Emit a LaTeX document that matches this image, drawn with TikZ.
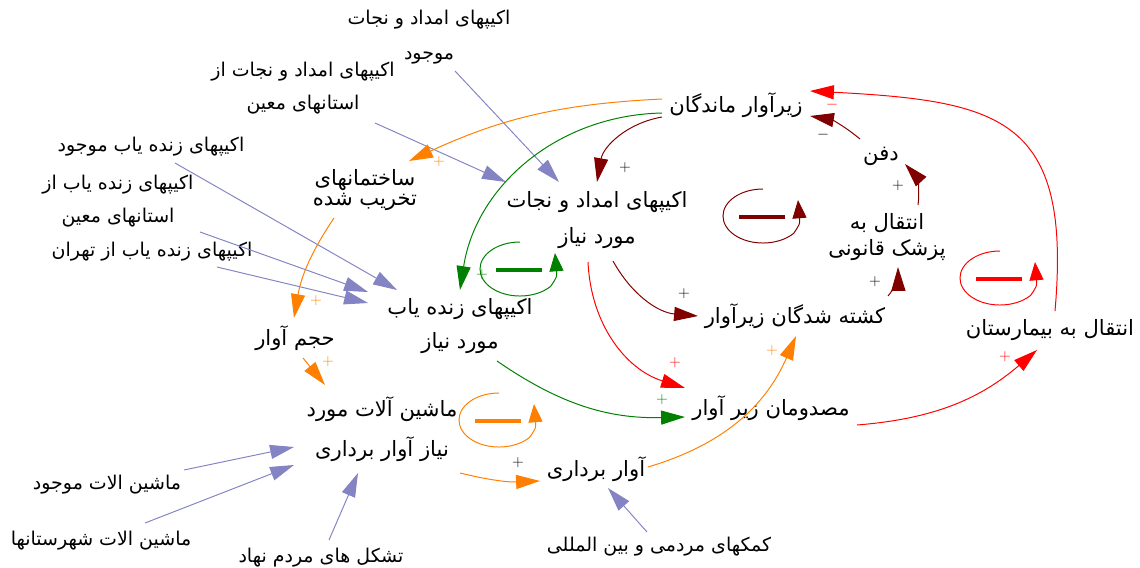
\documentclass[tikz,border=0pt]{standalone}
\usepackage{fontspec}
\newfontfamily\farsi[Script=Arabic]{DejaVu Sans}
\TeXXeTstate=1
\usetikzlibrary{arrows.meta}

\definecolor{lnkblue}{RGB}{132,132,196}
\definecolor{lnkorange}{RGB}{255,128,0}
\definecolor{lnkred}{RGB}{255,0,0}
\definecolor{lnkdark}{RGB}{128,0,0}
\definecolor{lnkgreen}{RGB}{0,128,0}

\newcommand{\fa}[1]{\beginR #1\endR}

\tikzset{
  var/.style={font=\farsi\fontsize{15}{17}\selectfont, align=center, inner sep=0pt, text=black},
  ext/.style={font=\farsi\fontsize{13.5}{16}\selectfont, align=center, inner sep=0pt, text=black},
  pol/.style={font=\fontsize{11}{12}\selectfont, inner sep=0pt, pos=1},
  loopsign/.style={-{Triangle[length=13pt,width=10pt]}},
}

\begin{document}
\begin{tikzpicture}[x=0.025cm, y=-0.025cm, >={Triangle[length=17pt,width=10pt]}, line width=0.7pt]
\useasboundingbox (0,0) rectangle (1140,567);

% main variables
\node[var] (ZM)  at (736,105) {\fa{زیرآوار ماندگان}};
\node[var] (SK)  at (365,190) {\fa{ساختمانهای}\\[-3pt]\fa{تخریب شده}};
\node[var] (AN)  at (597,220) {\fa{اکیپهای امداد و نجات}\\[8.5pt]\fa{مورد نیاز}};
\node[var] (ZN)  at (460,326) {\fa{اکیپهای زنده یاب}\\[7pt]\fa{مورد نیاز}};
\node[var] (HA)  at (295,338) {\fa{حجم آوار}};
\node[var] (MA)  at (382,429) {\fa{ماشین آلات مورد}\\[10pt]\fa{نیاز آوار برداری}};
\node[var] (AB)  at (596,469) {\fa{آوار برداری}};
\node[var] (MZ)  at (771,408) {\fa{مصدومان زیر آوار}};
\node[var] (KSH) at (795,316) {\fa{کشته شدگان زیرآوار}};
\node[var] (PQ)  at (887,237) {\fa{انتقال به}\\[2pt]\fa{پزشک قانونی}};
\node[var] (DF)  at (881,156) {\fa{دفن}};
\node[var] (BS)  at (1050,330) {\fa{انتقال به بیمارستان}};

% inputs
\node[ext] (A1)  at (429,37)  {\fa{اکیپهای امداد و نجات}\\[9pt]\fa{موجود}};
\node[ext] (A2)  at (303,88)  {\fa{اکیپهای امداد و نجات از}\\[7.5pt]\fa{استانهای معین}};
\node[ext] (Z1)  at (151,147) {\fa{اکیپهای زنده یاب موجود}};
\node[ext] (Z2)  at (118,201) {\fa{اکیپهای زنده یاب از}\\[7.5pt]\fa{استانهای معین}};
\node[ext] (Z3)  at (152,252) {\fa{اکیپهای زنده یاب از تهران}};
\node[ext] (ME)  at (107,485) {\fa{ماشین الات موجود}};
\node[ext] (MSH) at (101,541) {\fa{ماشین الات شهرستانها}};
\node[ext] (TM)  at (321,558) {\fa{تشکل های مردم نهاد}};
\node[ext] (KM)  at (659,547) {\fa{کمکهای مردمی و بین المللی}};

% loop signs
\foreach \col/\cx/\cy in {lnkdark/763/216, lnkgreen/520/269, lnkorange/499/420, lnkred/1000/278} {
  \draw[\col, loopsign] (\cx,\cy-27) arc[start angle=90, end angle=320, x radius=1cm, y radius=0.675cm]
    .. controls (\cx+37,\cy+8) .. (\cx+35,\cy-16);
  \draw[\col, line width=2.2pt] (\cx-24,\cy+1) -- (\cx+22,\cy+1);
}

% inputs to variables
\path[->, lnkblue]
  ([shift={(26,34)}]A1.center)   edge ([shift={(-38,-38)}]AN.center)
  ([shift={(72,35)}]A2.center)   edge ([shift={(-91,-38)}]AN.center)
  ([shift={(24,16)}]Z1.center)   edge ([shift={(-63,-36)}]ZN.center)
  ([shift={(82,31)}]Z2.center)   edge ([shift={(-92,-34)}]ZN.center)
  ([shift={(65,15)}]Z3.center)   edge ([shift={(-92,-23)}]ZN.center)
  ([shift={(77,-15)}]ME.center)  edge ([shift={(-88,18)}]MA.center)
  ([shift={(44,-18)}]MSH.center) edge ([shift={(-88,36)}]MA.center)
  ([shift={(8,-18)}]TM.center)   edge ([shift={(-24,44)}]MA.center)
  ([shift={(-12,-15)}]KM.center) edge ([shift={(12,19)}]AB.center);

% orange links
\path[->, lnkorange]
  ([shift={(-74,-6)}]ZM.center) edge[bend right=11] node[pol, shift={(30,1)}]{+} ([shift={(44,-29)}]SK.center)
  ([shift={(-31,28)}]SK.center) edge[bend right=12] node[pol, shift={(22,-17)}]{+} ([shift={(-1,-20)}]HA.center)
  ([shift={(8,20)}]HA.center)   edge node[pol, shift={(3,-23)}]{+} ([shift={(-57,-44)}]MA.center)
  ([shift={(78,44)}]MA.center)  edge[bend right=8] node[pol, black, shift={(-22,-18)}]{+} ([shift={(-56,12)}]AB.center)
  ([shift={(52,-2)}]AB.center)  edge[bend right=25] node[pol, shift={(-24,15)}]{+} ([shift={(1,20)}]KSH.center);

% dark red links
\path[->, lnkdark]
  ([shift={(-74,12)}]ZM.center)  edge[bend right=35] node[pol, black, shift={(28,-14)}]{+} ([shift={(0,-38)}]AN.center)
  ([shift={(16,41)}]AN.center)   edge[bend right=28] node[pol, black, shift={(-14,-22)}]{+} ([shift={(-97,0)}]KSH.center)
  ([shift={(93,-20)}]KSH.center) edge[bend right=20] node[pol, black, shift={(-23,15)}]{+} ([shift={(11,30)}]PQ.center)
  ([shift={(31,-32)}]PQ.center)  edge[bend right=25] node[pol, black, shift={(-7,22)}]{+} ([shift={(24,8)}]DF.center)
  ([shift={(-21,-17)}]DF.center) edge[bend right=15] node[pol, black, shift={(13,19)}]{$-$} ([shift={(74,11)}]ZM.center);

% red links
\path[->, lnkred]
  ([shift={(-9,42)}]AN.center)  edge[bend right=35] node[pol, shift={(-10,-25)}]{+} ([shift={(-86,-20)}]MZ.center)
  ([shift={(86,17)}]MZ.center)  edge[bend right=18] node[pol, shift={(-32,7)}]{+} ([shift={(-13,20)}]BS.center)
  ([shift={(5,-19)}]BS.center)  edge[out=85, in=-3, looseness=1.5] node[pol, shift={(22,14)}]{$-$} ([shift={(74,-14)}]ZM.center);

% green links
\path[->, lnkgreen]
  ([shift={(-74,8)}]ZM.center)  edge[bend right=40] node[pol, shift={(22,-15)}]{+} ([shift={(0,-36)}]ZN.center)
  ([shift={(37,35)}]ZN.center)  edge[bend right=18] node[pol, shift={(-23,-17)}]{+} ([shift={(-86,9)}]MZ.center);

\end{tikzpicture}
\end{document}
